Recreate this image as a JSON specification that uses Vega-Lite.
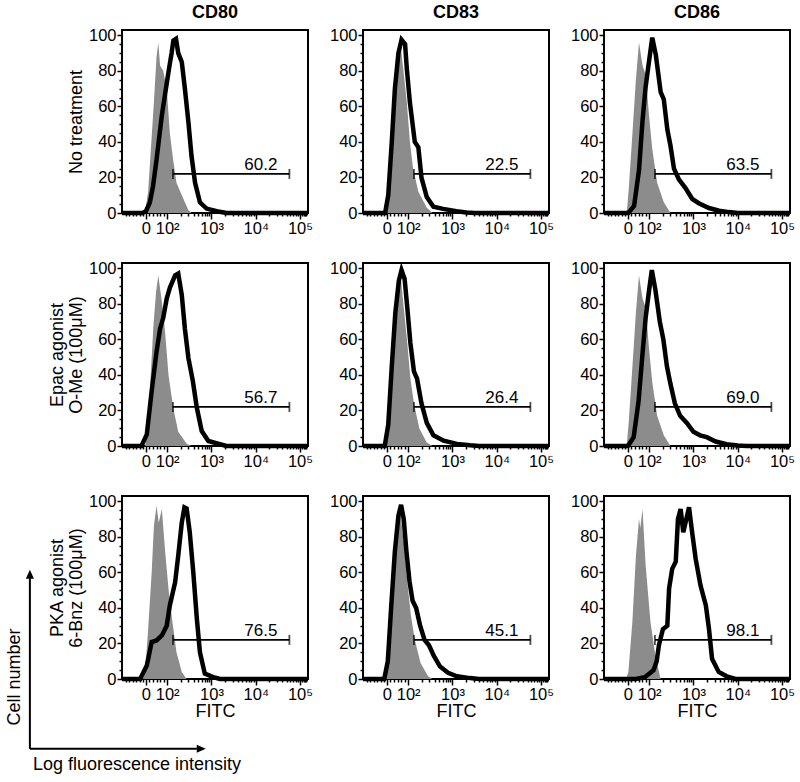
{
"$schema": "https://vega.github.io/schema/vega-lite/v6.json",
"background": "white",
"padding": {"left": 4, "top": 3, "right": 5, "bottom": 5},
"columns": 3,
"bounds": "flush",
"spacing": {"row": 50, "column": 55},
"datasets": {
"h": [
{"p":1,"s":"i","u":1.45,"y":0},{"p":1,"s":"i","u":1.50,"y":0.5},{"p":1,"s":"i","u":1.57,"y":12},{"p":1,"s":"i","u":1.63,"y":35},{"p":1,"s":"i","u":1.70,"y":62},{"p":1,"s":"i","u":1.76,"y":88},{"p":1,"s":"i","u":1.80,"y":96},{"p":1,"s":"i","u":1.84,"y":83},{"p":1,"s":"i","u":1.91,"y":80},{"p":1,"s":"i","u":1.99,"y":70},{"p":1,"s":"i","u":2.06,"y":45},{"p":1,"s":"i","u":2.14,"y":29},{"p":1,"s":"i","u":2.21,"y":17},{"p":1,"s":"i","u":2.33,"y":10},{"p":1,"s":"i","u":2.48,"y":1.5},{"p":1,"s":"i","u":2.55,"y":0},
{"p":1,"s":"b","u":0.98,"y":0},{"p":1,"s":"b","u":1.44,"y":0},{"p":1,"s":"b","u":1.52,"y":1},{"p":1,"s":"b","u":1.61,"y":6},{"p":1,"s":"b","u":1.68,"y":15},{"p":1,"s":"b","u":1.76,"y":30},{"p":1,"s":"b","u":1.88,"y":55},{"p":1,"s":"b","u":1.99,"y":73},{"p":1,"s":"b","u":2.06,"y":84},{"p":1,"s":"b","u":2.10,"y":90},{"p":1,"s":"b","u":2.14,"y":97},{"p":1,"s":"b","u":2.20,"y":98},{"p":1,"s":"b","u":2.25,"y":90},{"p":1,"s":"b","u":2.33,"y":85},{"p":1,"s":"b","u":2.40,"y":70},{"p":1,"s":"b","u":2.48,"y":51},{"p":1,"s":"b","u":2.55,"y":32},{"p":1,"s":"b","u":2.63,"y":17},{"p":1,"s":"b","u":2.74,"y":6},{"p":1,"s":"b","u":2.89,"y":2.5},{"p":1,"s":"b","u":3.12,"y":1},{"p":1,"s":"b","u":3.34,"y":0},{"p":1,"s":"b","u":5.18,"y":0},
{"p":2,"s":"i","u":1.48,"y":0},{"p":2,"s":"i","u":1.53,"y":3},{"p":2,"s":"i","u":1.59,"y":21},{"p":2,"s":"i","u":1.67,"y":53},{"p":2,"s":"i","u":1.74,"y":85},{"p":2,"s":"i","u":1.78,"y":95},{"p":2,"s":"i","u":1.82,"y":96},{"p":2,"s":"i","u":1.89,"y":81},{"p":2,"s":"i","u":1.97,"y":62},{"p":2,"s":"i","u":2.04,"y":40},{"p":2,"s":"i","u":2.11,"y":25},{"p":2,"s":"i","u":2.23,"y":12},{"p":2,"s":"i","u":2.42,"y":3},{"p":2,"s":"i","u":2.55,"y":0},
{"p":2,"s":"b","u":0.98,"y":0},{"p":2,"s":"b","u":1.48,"y":0},{"p":2,"s":"b","u":1.55,"y":10},{"p":2,"s":"b","u":1.63,"y":40},{"p":2,"s":"b","u":1.70,"y":70},{"p":2,"s":"b","u":1.78,"y":90},{"p":2,"s":"b","u":1.85,"y":97.5},{"p":2,"s":"b","u":1.93,"y":95},{"p":2,"s":"b","u":1.97,"y":81},{"p":2,"s":"b","u":2.04,"y":62},{"p":2,"s":"b","u":2.15,"y":40},{"p":2,"s":"b","u":2.23,"y":37},{"p":2,"s":"b","u":2.30,"y":20},{"p":2,"s":"b","u":2.42,"y":9},{"p":2,"s":"b","u":2.57,"y":3.5},{"p":2,"s":"b","u":2.79,"y":2.3},{"p":2,"s":"b","u":3.09,"y":1},{"p":2,"s":"b","u":3.32,"y":0.3},{"p":2,"s":"b","u":3.5,"y":0},{"p":2,"s":"b","u":5.18,"y":0},
{"p":3,"s":"i","u":1.46,"y":0},{"p":3,"s":"i","u":1.50,"y":2},{"p":3,"s":"i","u":1.54,"y":14},{"p":3,"s":"i","u":1.62,"y":44},{"p":3,"s":"i","u":1.70,"y":75},{"p":3,"s":"i","u":1.77,"y":96},{"p":3,"s":"i","u":1.85,"y":83},{"p":3,"s":"i","u":1.92,"y":78},{"p":3,"s":"i","u":2.0,"y":54},{"p":3,"s":"i","u":2.07,"y":36},{"p":3,"s":"i","u":2.18,"y":17},{"p":3,"s":"i","u":2.33,"y":6},{"p":3,"s":"i","u":2.48,"y":0},
{"p":3,"s":"b","u":0.98,"y":0},{"p":3,"s":"b","u":1.53,"y":0},{"p":3,"s":"b","u":1.66,"y":4},{"p":3,"s":"b","u":1.77,"y":24},{"p":3,"s":"b","u":1.85,"y":52},{"p":3,"s":"b","u":1.92,"y":71},{"p":3,"s":"b","u":2.0,"y":86},{"p":3,"s":"b","u":2.07,"y":98.7},{"p":3,"s":"b","u":2.15,"y":89},{"p":3,"s":"b","u":2.26,"y":68},{"p":3,"s":"b","u":2.33,"y":64},{"p":3,"s":"b","u":2.41,"y":47},{"p":3,"s":"b","u":2.48,"y":38},{"p":3,"s":"b","u":2.56,"y":25},{"p":3,"s":"b","u":2.67,"y":19},{"p":3,"s":"b","u":2.82,"y":14},{"p":3,"s":"b","u":2.97,"y":8},{"p":3,"s":"b","u":3.12,"y":5.5},{"p":3,"s":"b","u":3.35,"y":2.8},{"p":3,"s":"b","u":3.58,"y":1.3},{"p":3,"s":"b","u":3.80,"y":0.5},{"p":3,"s":"b","u":4.0,"y":0},{"p":3,"s":"b","u":5.18,"y":0},
{"p":4,"s":"i","u":1.50,"y":0},{"p":4,"s":"i","u":1.54,"y":5},{"p":4,"s":"i","u":1.61,"y":31},{"p":4,"s":"i","u":1.69,"y":68},{"p":4,"s":"i","u":1.75,"y":87},{"p":4,"s":"i","u":1.80,"y":96},{"p":4,"s":"i","u":1.88,"y":81},{"p":4,"s":"i","u":1.95,"y":65},{"p":4,"s":"i","u":2.03,"y":40},{"p":4,"s":"i","u":2.14,"y":21},{"p":4,"s":"i","u":2.25,"y":8},{"p":4,"s":"i","u":2.44,"y":1.3},{"p":4,"s":"i","u":2.55,"y":0},
{"p":4,"s":"b","u":0.98,"y":0},{"p":4,"s":"b","u":1.42,"y":0},{"p":4,"s":"b","u":1.54,"y":6.5},{"p":4,"s":"b","u":1.65,"y":31},{"p":4,"s":"b","u":1.76,"y":53},{"p":4,"s":"b","u":1.84,"y":66},{"p":4,"s":"b","u":1.91,"y":72},{"p":4,"s":"b","u":1.99,"y":83},{"p":4,"s":"b","u":2.06,"y":89},{"p":4,"s":"b","u":2.18,"y":96},{"p":4,"s":"b","u":2.25,"y":97},{"p":4,"s":"b","u":2.33,"y":85},{"p":4,"s":"b","u":2.40,"y":66},{"p":4,"s":"b","u":2.48,"y":49.5},{"p":4,"s":"b","u":2.58,"y":36.5},{"p":4,"s":"b","u":2.67,"y":21.5},{"p":4,"s":"b","u":2.78,"y":8.4},{"p":4,"s":"b","u":2.93,"y":2.8},{"p":4,"s":"b","u":3.19,"y":1},{"p":4,"s":"b","u":3.34,"y":0},{"p":4,"s":"b","u":5.18,"y":0},
{"p":5,"s":"i","u":1.48,"y":0},{"p":5,"s":"i","u":1.53,"y":3},{"p":5,"s":"i","u":1.60,"y":25},{"p":5,"s":"i","u":1.68,"y":58},{"p":5,"s":"i","u":1.75,"y":88},{"p":5,"s":"i","u":1.80,"y":97},{"p":5,"s":"i","u":1.84,"y":93},{"p":5,"s":"i","u":1.90,"y":78},{"p":5,"s":"i","u":1.98,"y":58},{"p":5,"s":"i","u":2.05,"y":38},{"p":5,"s":"i","u":2.13,"y":24},{"p":5,"s":"i","u":2.25,"y":10},{"p":5,"s":"i","u":2.42,"y":2},{"p":5,"s":"i","u":2.55,"y":0},
{"p":5,"s":"b","u":0.98,"y":0},{"p":5,"s":"b","u":1.47,"y":0},{"p":5,"s":"b","u":1.55,"y":12},{"p":5,"s":"b","u":1.63,"y":45},{"p":5,"s":"b","u":1.71,"y":75},{"p":5,"s":"b","u":1.79,"y":93},{"p":5,"s":"b","u":1.85,"y":99},{"p":5,"s":"b","u":1.92,"y":94},{"p":5,"s":"b","u":1.98,"y":78},{"p":5,"s":"b","u":2.05,"y":58},{"p":5,"s":"b","u":2.13,"y":42},{"p":5,"s":"b","u":2.20,"y":38},{"p":5,"s":"b","u":2.30,"y":24},{"p":5,"s":"b","u":2.42,"y":13},{"p":5,"s":"b","u":2.57,"y":6},{"p":5,"s":"b","u":2.80,"y":3},{"p":5,"s":"b","u":3.10,"y":1.2},{"p":5,"s":"b","u":3.40,"y":0.4},{"p":5,"s":"b","u":3.60,"y":0},{"p":5,"s":"b","u":5.18,"y":0},
{"p":6,"s":"i","u":1.46,"y":0},{"p":6,"s":"i","u":1.50,"y":2},{"p":6,"s":"i","u":1.54,"y":14},{"p":6,"s":"i","u":1.62,"y":44},{"p":6,"s":"i","u":1.70,"y":75},{"p":6,"s":"i","u":1.77,"y":96},{"p":6,"s":"i","u":1.85,"y":83},{"p":6,"s":"i","u":1.92,"y":78},{"p":6,"s":"i","u":2.0,"y":54},{"p":6,"s":"i","u":2.07,"y":36},{"p":6,"s":"i","u":2.18,"y":17},{"p":6,"s":"i","u":2.33,"y":6},{"p":6,"s":"i","u":2.48,"y":0},
{"p":6,"s":"b","u":0.98,"y":0},{"p":6,"s":"b","u":1.52,"y":0},{"p":6,"s":"b","u":1.65,"y":5},{"p":6,"s":"b","u":1.76,"y":25},{"p":6,"s":"b","u":1.85,"y":52},{"p":6,"s":"b","u":1.92,"y":72},{"p":6,"s":"b","u":2.0,"y":88},{"p":6,"s":"b","u":2.06,"y":99},{"p":6,"s":"b","u":2.14,"y":88},{"p":6,"s":"b","u":2.24,"y":70},{"p":6,"s":"b","u":2.32,"y":60},{"p":6,"s":"b","u":2.40,"y":45},{"p":6,"s":"b","u":2.48,"y":35},{"p":6,"s":"b","u":2.58,"y":24},{"p":6,"s":"b","u":2.70,"y":17},{"p":6,"s":"b","u":2.85,"y":13},{"p":6,"s":"b","u":3.0,"y":8},{"p":6,"s":"b","u":3.15,"y":6},{"p":6,"s":"b","u":3.3,"y":5},{"p":6,"s":"b","u":3.5,"y":2.5},{"p":6,"s":"b","u":3.75,"y":1},{"p":6,"s":"b","u":4.0,"y":0.3},{"p":6,"s":"b","u":4.2,"y":0},{"p":6,"s":"b","u":5.18,"y":0},
{"p":7,"s":"i","u":1.45,"y":0},{"p":7,"s":"i","u":1.50,"y":3},{"p":7,"s":"i","u":1.57,"y":28},{"p":7,"s":"i","u":1.65,"y":60},{"p":7,"s":"i","u":1.70,"y":86},{"p":7,"s":"i","u":1.76,"y":97.6},{"p":7,"s":"i","u":1.81,"y":88},{"p":7,"s":"i","u":1.88,"y":95.7},{"p":7,"s":"i","u":1.95,"y":73},{"p":7,"s":"i","u":2.03,"y":50.7},{"p":7,"s":"i","u":2.10,"y":35.7},{"p":7,"s":"i","u":2.21,"y":15},{"p":7,"s":"i","u":2.33,"y":3.9},{"p":7,"s":"i","u":2.44,"y":0},
{"p":7,"s":"b","u":0.98,"y":0},{"p":7,"s":"b","u":1.39,"y":0},{"p":7,"s":"b","u":1.54,"y":7.6},{"p":7,"s":"b","u":1.65,"y":20.8},{"p":7,"s":"b","u":1.76,"y":21.7},{"p":7,"s":"b","u":1.88,"y":24.5},{"p":7,"s":"b","u":1.99,"y":30},{"p":7,"s":"b","u":2.06,"y":41.4},{"p":7,"s":"b","u":2.18,"y":54.5},{"p":7,"s":"b","u":2.25,"y":69.5},{"p":7,"s":"b","u":2.33,"y":88},{"p":7,"s":"b","u":2.39,"y":96.6},{"p":7,"s":"b","u":2.44,"y":96},{"p":7,"s":"b","u":2.51,"y":82.6},{"p":7,"s":"b","u":2.59,"y":60},{"p":7,"s":"b","u":2.67,"y":33.9},{"p":7,"s":"b","u":2.74,"y":15},{"p":7,"s":"b","u":2.85,"y":3},{"p":7,"s":"b","u":3.04,"y":1.1},{"p":7,"s":"b","u":3.19,"y":0},{"p":7,"s":"b","u":5.18,"y":0},
{"p":8,"s":"i","u":1.47,"y":0},{"p":8,"s":"i","u":1.52,"y":3},{"p":8,"s":"i","u":1.59,"y":25},{"p":8,"s":"i","u":1.67,"y":58},{"p":8,"s":"i","u":1.74,"y":88},{"p":8,"s":"i","u":1.79,"y":97},{"p":8,"s":"i","u":1.84,"y":90},{"p":8,"s":"i","u":1.91,"y":75},{"p":8,"s":"i","u":1.98,"y":55},{"p":8,"s":"i","u":2.06,"y":36},{"p":8,"s":"i","u":2.15,"y":22},{"p":8,"s":"i","u":2.28,"y":9},{"p":8,"s":"i","u":2.45,"y":1.5},{"p":8,"s":"i","u":2.55,"y":0},
{"p":8,"s":"b","u":0.98,"y":0},{"p":8,"s":"b","u":1.46,"y":0},{"p":8,"s":"b","u":1.54,"y":10},{"p":8,"s":"b","u":1.62,"y":42},{"p":8,"s":"b","u":1.70,"y":72},{"p":8,"s":"b","u":1.78,"y":92},{"p":8,"s":"b","u":1.84,"y":98},{"p":8,"s":"b","u":1.90,"y":90},{"p":8,"s":"b","u":1.96,"y":72},{"p":8,"s":"b","u":2.03,"y":55},{"p":8,"s":"b","u":2.10,"y":44},{"p":8,"s":"b","u":2.18,"y":40},{"p":8,"s":"b","u":2.27,"y":30},{"p":8,"s":"b","u":2.37,"y":22},{"p":8,"s":"b","u":2.47,"y":19},{"p":8,"s":"b","u":2.58,"y":13},{"p":8,"s":"b","u":2.72,"y":7},{"p":8,"s":"b","u":2.90,"y":3.5},{"p":8,"s":"b","u":3.10,"y":1.5},{"p":8,"s":"b","u":3.40,"y":0.5},{"p":8,"s":"b","u":3.60,"y":0},{"p":8,"s":"b","u":5.18,"y":0},
{"p":9,"s":"i","u":1.48,"y":0},{"p":9,"s":"i","u":1.53,"y":4},{"p":9,"s":"i","u":1.62,"y":32},{"p":9,"s":"i","u":1.70,"y":69},{"p":9,"s":"i","u":1.77,"y":90},{"p":9,"s":"i","u":1.80,"y":85},{"p":9,"s":"i","u":1.85,"y":95.7},{"p":9,"s":"i","u":1.92,"y":64},{"p":9,"s":"i","u":2.03,"y":32},{"p":9,"s":"i","u":2.15,"y":11.4},{"p":9,"s":"i","u":2.26,"y":0},
{"p":9,"s":"b","u":0.98,"y":0},{"p":9,"s":"b","u":1.70,"y":0},{"p":9,"s":"b","u":1.90,"y":1},{"p":9,"s":"b","u":2.0,"y":3},{"p":9,"s":"b","u":2.1,"y":5},{"p":9,"s":"b","u":2.17,"y":10},{"p":9,"s":"b","u":2.22,"y":19},{"p":9,"s":"b","u":2.31,"y":28},{"p":9,"s":"b","u":2.41,"y":30},{"p":9,"s":"b","u":2.45,"y":51},{"p":9,"s":"b","u":2.52,"y":62},{"p":9,"s":"b","u":2.60,"y":66},{"p":9,"s":"b","u":2.65,"y":90},{"p":9,"s":"b","u":2.71,"y":95.7},{"p":9,"s":"b","u":2.77,"y":82.6},{"p":9,"s":"b","u":2.82,"y":88},{"p":9,"s":"b","u":2.90,"y":96.6},{"p":9,"s":"b","u":2.97,"y":82.6},{"p":9,"s":"b","u":3.05,"y":67.6},{"p":9,"s":"b","u":3.16,"y":52.6},{"p":9,"s":"b","u":3.28,"y":41.4},{"p":9,"s":"b","u":3.35,"y":28.3},{"p":9,"s":"b","u":3.42,"y":11.4},{"p":9,"s":"b","u":3.57,"y":4},{"p":9,"s":"b","u":3.75,"y":1.5},{"p":9,"s":"b","u":3.95,"y":0},{"p":9,"s":"b","u":5.18,"y":0}
],
"g": [
{"p":1,"u":2.13,"u2":4.76,"y":22,"lab":"60.2"},{"p":2,"u":2.13,"u2":4.76,"y":22,"lab":"22.5"},{"p":3,"u":2.13,"u2":4.76,"y":22,"lab":"63.5"},
{"p":4,"u":2.13,"u2":4.76,"y":22,"lab":"56.7"},{"p":5,"u":2.13,"u2":4.76,"y":22,"lab":"26.4"},{"p":6,"u":2.13,"u2":4.76,"y":22,"lab":"69.0"},
{"p":7,"u":2.13,"u2":4.76,"y":22,"lab":"76.5"},{"p":8,"u":2.13,"u2":4.76,"y":22,"lab":"45.1"},{"p":9,"u":2.13,"u2":4.76,"y":22,"lab":"98.1"}
],
"st": [
{"p":1,"n":"86","m":"207"},{"p":2,"n":"86","m":"120"},{"p":3,"n":"86","m":"214"},
{"p":4,"n":"92","m":"201"},{"p":5,"n":"92","m":"125"},{"p":6,"n":"92","m":"232"},
{"p":7,"n":"91","m":"293"},{"p":8,"n":"91","m":"167"},{"p":9,"n":"91","m":"972"}
]
},
"concat": [
{"width":186,"height":183,"title":"CD80",
 "encoding":{"x":{"field":"u","type":"quantitative","scale":{"domain":[0.98,5.18],"nice":false,"zero":false},"axis":{"title":null,"values":[1.06,1.14,1.22,1.30,1.38,1.45,1.52,1.60,1.68,1.76,1.84,1.92,2,2.301,2.477,2.602,2.699,2.778,2.845,2.903,2.954,3,3.301,3.477,3.602,3.699,3.778,3.845,3.903,3.954,4,4.301,4.477,4.602,4.699,4.778,4.845,4.903,4.954,5,5.041,5.079,5.114,5.146],"labelExpr":"datum.value==1.52?'0':datum.value==2?'10²':datum.value==3?'10³':datum.value==4?'10⁴':datum.value==5?'10⁵':''","tickSize":{"condition":{"test":"indexof([1.52,2,3,4,5],datum.value)>=0","value":6},"value":3},"labelOverlap":false,"labelFlush":false,"labelPadding":1}},
  "y":{"field":"y","type":"quantitative","stack":null,"scale":{"domain":[0,103],"nice":false},"axis":{"title":"No treatment","values":[0,5,10,15,20,25,30,35,40,45,50,55,60,65,70,75,80,85,90,95,100],"labelExpr":"datum.value%20==0?datum.label:''","tickSize":{"condition":{"test":"datum.value%20==0","value":5},"value":3},"labelPadding":1,"titlePadding":3,"titleLineHeight":19}}},
 "layer":[
  {"data":{"name":"h"},"transform":[{"filter":"datum.p==1&&datum.s=='i'"}],"mark":{"type":"area","color":"#8c8c8c"}},
  {"data":{"name":"h"},"transform":[{"filter":"datum.p==1&&datum.s=='b'"}],"mark":{"type":"line","color":"black","strokeWidth":4.5}},
  {"data":{"name":"g"},"transform":[{"filter":"datum.p==1"}],"mark":{"type":"rule","color":"black","strokeWidth":1.8},"encoding":{"x2":{"field":"u2"}}},
  {"data":{"name":"g"},"transform":[{"filter":"datum.p==1"},{"fold":["u","u2"],"as":["end","u"]}],"mark":{"type":"tick","orient":"vertical","color":"black","size":10,"thickness":1.8}},
  {"data":{"name":"g"},"transform":[{"filter":"datum.p==1"}],"mark":{"type":"text","align":"right","baseline":"alphabetic","dx":-12,"dy":-4,"fontSize":17,"color":"black"},"encoding":{"x":{"field":"u2","type":"quantitative"},"text":{"field":"lab","type":"nominal"}}},
  {"data":{"name":"st"},"transform":[{"filter":"datum.p==1"}],"mark":{"type":"text","align":"right","baseline":"middle","fontSize":17,"color":"black"},"encoding":{"x":{"datum":5.09},"y":{"datum":94.5},"text":{"field":"n","type":"nominal"}}},
  {"data":{"name":"st"},"transform":[{"filter":"datum.p==1"}],"mark":{"type":"text","align":"right","baseline":"middle","fontSize":17,"fontWeight":"bold","color":"black"},"encoding":{"x":{"datum":5.09},"y":{"datum":82.5},"text":{"field":"m","type":"nominal"}}}
 ]},
{"width":186,"height":183,"title":"CD83",
 "encoding":{"x":{"field":"u","type":"quantitative","scale":{"domain":[0.98,5.18],"nice":false,"zero":false},"axis":{"title":null,"values":[1.06,1.14,1.22,1.30,1.38,1.45,1.52,1.60,1.68,1.76,1.84,1.92,2,2.301,2.477,2.602,2.699,2.778,2.845,2.903,2.954,3,3.301,3.477,3.602,3.699,3.778,3.845,3.903,3.954,4,4.301,4.477,4.602,4.699,4.778,4.845,4.903,4.954,5,5.041,5.079,5.114,5.146],"labelExpr":"datum.value==1.52?'0':datum.value==2?'10²':datum.value==3?'10³':datum.value==4?'10⁴':datum.value==5?'10⁵':''","tickSize":{"condition":{"test":"indexof([1.52,2,3,4,5],datum.value)>=0","value":6},"value":3},"labelOverlap":false,"labelFlush":false,"labelPadding":1}},
  "y":{"field":"y","type":"quantitative","stack":null,"scale":{"domain":[0,103],"nice":false},"axis":{"title":null,"values":[0,5,10,15,20,25,30,35,40,45,50,55,60,65,70,75,80,85,90,95,100],"labelExpr":"datum.value%20==0?datum.label:''","tickSize":{"condition":{"test":"datum.value%20==0","value":5},"value":3},"labelPadding":1}}},
 "layer":[
  {"data":{"name":"h"},"transform":[{"filter":"datum.p==2&&datum.s=='i'"}],"mark":{"type":"area","color":"#8c8c8c"}},
  {"data":{"name":"h"},"transform":[{"filter":"datum.p==2&&datum.s=='b'"}],"mark":{"type":"line","color":"black","strokeWidth":4.5}},
  {"data":{"name":"g"},"transform":[{"filter":"datum.p==2"}],"mark":{"type":"rule","color":"black","strokeWidth":1.8},"encoding":{"x2":{"field":"u2"}}},
  {"data":{"name":"g"},"transform":[{"filter":"datum.p==2"},{"fold":["u","u2"],"as":["end","u"]}],"mark":{"type":"tick","orient":"vertical","color":"black","size":10,"thickness":1.8}},
  {"data":{"name":"g"},"transform":[{"filter":"datum.p==2"}],"mark":{"type":"text","align":"right","baseline":"alphabetic","dx":-12,"dy":-4,"fontSize":17,"color":"black"},"encoding":{"x":{"field":"u2","type":"quantitative"},"text":{"field":"lab","type":"nominal"}}},
  {"data":{"name":"st"},"transform":[{"filter":"datum.p==2"}],"mark":{"type":"text","align":"right","baseline":"middle","fontSize":17,"color":"black"},"encoding":{"x":{"datum":5.09},"y":{"datum":94.5},"text":{"field":"n","type":"nominal"}}},
  {"data":{"name":"st"},"transform":[{"filter":"datum.p==2"}],"mark":{"type":"text","align":"right","baseline":"middle","fontSize":17,"fontWeight":"bold","color":"black"},"encoding":{"x":{"datum":5.09},"y":{"datum":82.5},"text":{"field":"m","type":"nominal"}}}
 ]},
{"width":186,"height":183,"title":"CD86",
 "encoding":{"x":{"field":"u","type":"quantitative","scale":{"domain":[0.98,5.18],"nice":false,"zero":false},"axis":{"title":null,"values":[1.06,1.14,1.22,1.30,1.38,1.45,1.52,1.60,1.68,1.76,1.84,1.92,2,2.301,2.477,2.602,2.699,2.778,2.845,2.903,2.954,3,3.301,3.477,3.602,3.699,3.778,3.845,3.903,3.954,4,4.301,4.477,4.602,4.699,4.778,4.845,4.903,4.954,5,5.041,5.079,5.114,5.146],"labelExpr":"datum.value==1.52?'0':datum.value==2?'10²':datum.value==3?'10³':datum.value==4?'10⁴':datum.value==5?'10⁵':''","tickSize":{"condition":{"test":"indexof([1.52,2,3,4,5],datum.value)>=0","value":6},"value":3},"labelOverlap":false,"labelFlush":false,"labelPadding":1}},
  "y":{"field":"y","type":"quantitative","stack":null,"scale":{"domain":[0,103],"nice":false},"axis":{"title":null,"values":[0,5,10,15,20,25,30,35,40,45,50,55,60,65,70,75,80,85,90,95,100],"labelExpr":"datum.value%20==0?datum.label:''","tickSize":{"condition":{"test":"datum.value%20==0","value":5},"value":3},"labelPadding":1}}},
 "layer":[
  {"data":{"name":"h"},"transform":[{"filter":"datum.p==3&&datum.s=='i'"}],"mark":{"type":"area","color":"#8c8c8c"}},
  {"data":{"name":"h"},"transform":[{"filter":"datum.p==3&&datum.s=='b'"}],"mark":{"type":"line","color":"black","strokeWidth":4.5}},
  {"data":{"name":"g"},"transform":[{"filter":"datum.p==3"}],"mark":{"type":"rule","color":"black","strokeWidth":1.8},"encoding":{"x2":{"field":"u2"}}},
  {"data":{"name":"g"},"transform":[{"filter":"datum.p==3"},{"fold":["u","u2"],"as":["end","u"]}],"mark":{"type":"tick","orient":"vertical","color":"black","size":10,"thickness":1.8}},
  {"data":{"name":"g"},"transform":[{"filter":"datum.p==3"}],"mark":{"type":"text","align":"right","baseline":"alphabetic","dx":-12,"dy":-4,"fontSize":17,"color":"black"},"encoding":{"x":{"field":"u2","type":"quantitative"},"text":{"field":"lab","type":"nominal"}}},
  {"data":{"name":"st"},"transform":[{"filter":"datum.p==3"}],"mark":{"type":"text","align":"right","baseline":"middle","fontSize":17,"color":"black"},"encoding":{"x":{"datum":5.09},"y":{"datum":94.5},"text":{"field":"n","type":"nominal"}}},
  {"data":{"name":"st"},"transform":[{"filter":"datum.p==3"}],"mark":{"type":"text","align":"right","baseline":"middle","fontSize":17,"fontWeight":"bold","color":"black"},"encoding":{"x":{"datum":5.09},"y":{"datum":82.5},"text":{"field":"m","type":"nominal"}}}
 ]},
{"width":186,"height":183,
 "encoding":{"x":{"field":"u","type":"quantitative","scale":{"domain":[0.98,5.18],"nice":false,"zero":false},"axis":{"title":null,"values":[1.06,1.14,1.22,1.30,1.38,1.45,1.52,1.60,1.68,1.76,1.84,1.92,2,2.301,2.477,2.602,2.699,2.778,2.845,2.903,2.954,3,3.301,3.477,3.602,3.699,3.778,3.845,3.903,3.954,4,4.301,4.477,4.602,4.699,4.778,4.845,4.903,4.954,5,5.041,5.079,5.114,5.146],"labelExpr":"datum.value==1.52?'0':datum.value==2?'10²':datum.value==3?'10³':datum.value==4?'10⁴':datum.value==5?'10⁵':''","tickSize":{"condition":{"test":"indexof([1.52,2,3,4,5],datum.value)>=0","value":6},"value":3},"labelOverlap":false,"labelFlush":false,"labelPadding":1}},
  "y":{"field":"y","type":"quantitative","stack":null,"scale":{"domain":[0,103],"nice":false},"axis":{"title":["Epac agonist","O-Me (100μM)"],"values":[0,5,10,15,20,25,30,35,40,45,50,55,60,65,70,75,80,85,90,95,100],"labelExpr":"datum.value%20==0?datum.label:''","tickSize":{"condition":{"test":"datum.value%20==0","value":5},"value":3},"labelPadding":1,"titlePadding":3,"titleLineHeight":19}}},
 "layer":[
  {"data":{"name":"h"},"transform":[{"filter":"datum.p==4&&datum.s=='i'"}],"mark":{"type":"area","color":"#8c8c8c"}},
  {"data":{"name":"h"},"transform":[{"filter":"datum.p==4&&datum.s=='b'"}],"mark":{"type":"line","color":"black","strokeWidth":4.5}},
  {"data":{"name":"g"},"transform":[{"filter":"datum.p==4"}],"mark":{"type":"rule","color":"black","strokeWidth":1.8},"encoding":{"x2":{"field":"u2"}}},
  {"data":{"name":"g"},"transform":[{"filter":"datum.p==4"},{"fold":["u","u2"],"as":["end","u"]}],"mark":{"type":"tick","orient":"vertical","color":"black","size":10,"thickness":1.8}},
  {"data":{"name":"g"},"transform":[{"filter":"datum.p==4"}],"mark":{"type":"text","align":"right","baseline":"alphabetic","dx":-12,"dy":-4,"fontSize":17,"color":"black"},"encoding":{"x":{"field":"u2","type":"quantitative"},"text":{"field":"lab","type":"nominal"}}},
  {"data":{"name":"st"},"transform":[{"filter":"datum.p==4"}],"mark":{"type":"text","align":"right","baseline":"middle","fontSize":17,"color":"black"},"encoding":{"x":{"datum":5.09},"y":{"datum":94.5},"text":{"field":"n","type":"nominal"}}},
  {"data":{"name":"st"},"transform":[{"filter":"datum.p==4"}],"mark":{"type":"text","align":"right","baseline":"middle","fontSize":17,"fontWeight":"bold","color":"black"},"encoding":{"x":{"datum":5.09},"y":{"datum":82.5},"text":{"field":"m","type":"nominal"}}}
 ]},
{"width":186,"height":183,
 "encoding":{"x":{"field":"u","type":"quantitative","scale":{"domain":[0.98,5.18],"nice":false,"zero":false},"axis":{"title":null,"values":[1.06,1.14,1.22,1.30,1.38,1.45,1.52,1.60,1.68,1.76,1.84,1.92,2,2.301,2.477,2.602,2.699,2.778,2.845,2.903,2.954,3,3.301,3.477,3.602,3.699,3.778,3.845,3.903,3.954,4,4.301,4.477,4.602,4.699,4.778,4.845,4.903,4.954,5,5.041,5.079,5.114,5.146],"labelExpr":"datum.value==1.52?'0':datum.value==2?'10²':datum.value==3?'10³':datum.value==4?'10⁴':datum.value==5?'10⁵':''","tickSize":{"condition":{"test":"indexof([1.52,2,3,4,5],datum.value)>=0","value":6},"value":3},"labelOverlap":false,"labelFlush":false,"labelPadding":1}},
  "y":{"field":"y","type":"quantitative","stack":null,"scale":{"domain":[0,103],"nice":false},"axis":{"title":null,"values":[0,5,10,15,20,25,30,35,40,45,50,55,60,65,70,75,80,85,90,95,100],"labelExpr":"datum.value%20==0?datum.label:''","tickSize":{"condition":{"test":"datum.value%20==0","value":5},"value":3},"labelPadding":1}}},
 "layer":[
  {"data":{"name":"h"},"transform":[{"filter":"datum.p==5&&datum.s=='i'"}],"mark":{"type":"area","color":"#8c8c8c"}},
  {"data":{"name":"h"},"transform":[{"filter":"datum.p==5&&datum.s=='b'"}],"mark":{"type":"line","color":"black","strokeWidth":4.5}},
  {"data":{"name":"g"},"transform":[{"filter":"datum.p==5"}],"mark":{"type":"rule","color":"black","strokeWidth":1.8},"encoding":{"x2":{"field":"u2"}}},
  {"data":{"name":"g"},"transform":[{"filter":"datum.p==5"},{"fold":["u","u2"],"as":["end","u"]}],"mark":{"type":"tick","orient":"vertical","color":"black","size":10,"thickness":1.8}},
  {"data":{"name":"g"},"transform":[{"filter":"datum.p==5"}],"mark":{"type":"text","align":"right","baseline":"alphabetic","dx":-12,"dy":-4,"fontSize":17,"color":"black"},"encoding":{"x":{"field":"u2","type":"quantitative"},"text":{"field":"lab","type":"nominal"}}},
  {"data":{"name":"st"},"transform":[{"filter":"datum.p==5"}],"mark":{"type":"text","align":"right","baseline":"middle","fontSize":17,"color":"black"},"encoding":{"x":{"datum":5.09},"y":{"datum":94.5},"text":{"field":"n","type":"nominal"}}},
  {"data":{"name":"st"},"transform":[{"filter":"datum.p==5"}],"mark":{"type":"text","align":"right","baseline":"middle","fontSize":17,"fontWeight":"bold","color":"black"},"encoding":{"x":{"datum":5.09},"y":{"datum":82.5},"text":{"field":"m","type":"nominal"}}}
 ]},
{"width":186,"height":183,
 "encoding":{"x":{"field":"u","type":"quantitative","scale":{"domain":[0.98,5.18],"nice":false,"zero":false},"axis":{"title":null,"values":[1.06,1.14,1.22,1.30,1.38,1.45,1.52,1.60,1.68,1.76,1.84,1.92,2,2.301,2.477,2.602,2.699,2.778,2.845,2.903,2.954,3,3.301,3.477,3.602,3.699,3.778,3.845,3.903,3.954,4,4.301,4.477,4.602,4.699,4.778,4.845,4.903,4.954,5,5.041,5.079,5.114,5.146],"labelExpr":"datum.value==1.52?'0':datum.value==2?'10²':datum.value==3?'10³':datum.value==4?'10⁴':datum.value==5?'10⁵':''","tickSize":{"condition":{"test":"indexof([1.52,2,3,4,5],datum.value)>=0","value":6},"value":3},"labelOverlap":false,"labelFlush":false,"labelPadding":1}},
  "y":{"field":"y","type":"quantitative","stack":null,"scale":{"domain":[0,103],"nice":false},"axis":{"title":null,"values":[0,5,10,15,20,25,30,35,40,45,50,55,60,65,70,75,80,85,90,95,100],"labelExpr":"datum.value%20==0?datum.label:''","tickSize":{"condition":{"test":"datum.value%20==0","value":5},"value":3},"labelPadding":1}}},
 "layer":[
  {"data":{"name":"h"},"transform":[{"filter":"datum.p==6&&datum.s=='i'"}],"mark":{"type":"area","color":"#8c8c8c"}},
  {"data":{"name":"h"},"transform":[{"filter":"datum.p==6&&datum.s=='b'"}],"mark":{"type":"line","color":"black","strokeWidth":4.5}},
  {"data":{"name":"g"},"transform":[{"filter":"datum.p==6"}],"mark":{"type":"rule","color":"black","strokeWidth":1.8},"encoding":{"x2":{"field":"u2"}}},
  {"data":{"name":"g"},"transform":[{"filter":"datum.p==6"},{"fold":["u","u2"],"as":["end","u"]}],"mark":{"type":"tick","orient":"vertical","color":"black","size":10,"thickness":1.8}},
  {"data":{"name":"g"},"transform":[{"filter":"datum.p==6"}],"mark":{"type":"text","align":"right","baseline":"alphabetic","dx":-12,"dy":-4,"fontSize":17,"color":"black"},"encoding":{"x":{"field":"u2","type":"quantitative"},"text":{"field":"lab","type":"nominal"}}},
  {"data":{"name":"st"},"transform":[{"filter":"datum.p==6"}],"mark":{"type":"text","align":"right","baseline":"middle","fontSize":17,"color":"black"},"encoding":{"x":{"datum":5.09},"y":{"datum":94.5},"text":{"field":"n","type":"nominal"}}},
  {"data":{"name":"st"},"transform":[{"filter":"datum.p==6"}],"mark":{"type":"text","align":"right","baseline":"middle","fontSize":17,"fontWeight":"bold","color":"black"},"encoding":{"x":{"datum":5.09},"y":{"datum":82.5},"text":{"field":"m","type":"nominal"}}}
 ]},
{"width":186,"height":183,
 "resolve":{"axis":{"x":"independent","y":"independent"}},
 "layer":[
  {"encoding":{"x":{"field":"u","type":"quantitative","scale":{"domain":[0.98,5.18],"nice":false,"zero":false},"axis":{"title":"FITC","titlePadding":0,"values":[1.06,1.14,1.22,1.30,1.38,1.45,1.52,1.60,1.68,1.76,1.84,1.92,2,2.301,2.477,2.602,2.699,2.778,2.845,2.903,2.954,3,3.301,3.477,3.602,3.699,3.778,3.845,3.903,3.954,4,4.301,4.477,4.602,4.699,4.778,4.845,4.903,4.954,5,5.041,5.079,5.114,5.146],"labelExpr":"datum.value==1.52?'0':datum.value==2?'10²':datum.value==3?'10³':datum.value==4?'10⁴':datum.value==5?'10⁵':''","tickSize":{"condition":{"test":"indexof([1.52,2,3,4,5],datum.value)>=0","value":6},"value":3},"labelOverlap":false,"labelFlush":false,"labelPadding":1}},
   "y":{"field":"y","type":"quantitative","stack":null,"scale":{"domain":[0,103],"nice":false},"axis":{"title":["PKA agonist","6-Bnz (100μM)"],"values":[0,5,10,15,20,25,30,35,40,45,50,55,60,65,70,75,80,85,90,95,100],"labelExpr":"datum.value%20==0?datum.label:''","tickSize":{"condition":{"test":"datum.value%20==0","value":5},"value":3},"labelPadding":1,"titlePadding":3,"titleLineHeight":19}}},
   "layer":[
    {"data":{"name":"h"},"transform":[{"filter":"datum.p==7&&datum.s=='i'"}],"mark":{"type":"area","color":"#8c8c8c"}},
    {"data":{"name":"h"},"transform":[{"filter":"datum.p==7&&datum.s=='b'"}],"mark":{"type":"line","color":"black","strokeWidth":4.5}},
    {"data":{"name":"g"},"transform":[{"filter":"datum.p==7"}],"mark":{"type":"rule","color":"black","strokeWidth":1.8},"encoding":{"x2":{"field":"u2"}}},
    {"data":{"name":"g"},"transform":[{"filter":"datum.p==7"},{"fold":["u","u2"],"as":["end","u"]}],"mark":{"type":"tick","orient":"vertical","color":"black","size":10,"thickness":1.8}},
    {"data":{"name":"g"},"transform":[{"filter":"datum.p==7"}],"mark":{"type":"text","align":"right","baseline":"alphabetic","dx":-12,"dy":-4,"fontSize":17,"color":"black"},"encoding":{"x":{"field":"u2","type":"quantitative"},"text":{"field":"lab","type":"nominal"}}},
    {"data":{"name":"st"},"transform":[{"filter":"datum.p==7"}],"mark":{"type":"text","align":"right","baseline":"middle","fontSize":17,"color":"black"},"encoding":{"x":{"datum":5.09},"y":{"datum":94.5},"text":{"field":"n","type":"nominal"}}},
    {"data":{"name":"st"},"transform":[{"filter":"datum.p==7"}],"mark":{"type":"text","align":"right","baseline":"middle","fontSize":17,"fontWeight":"bold","color":"black"},"encoding":{"x":{"datum":5.09},"y":{"datum":82.5},"text":{"field":"m","type":"nominal"}}}
   ]},
  {"data":{"values":[{"k":1}]},"mark":{"type":"rule","color":"black","strokeWidth":2,"clip":false},"encoding":{"x":{"datum":-1.10,"axis":null},"y":{"datum":-39.3,"axis":null},"y2":{"datum":59}}},
  {"data":{"values":[{"k":1}]},"mark":{"type":"rule","color":"black","strokeWidth":2,"clip":false},"encoding":{"x":{"datum":-1.10,"axis":null},"x2":{"datum":2.67},"y":{"datum":-39.3,"axis":null}}},
  {"data":{"values":[{"k":1}]},"mark":{"type":"point","shape":"M-0.45,0.5L0,-0.5L0.45,0.5Z","filled":true,"color":"black","opacity":1,"size":324,"clip":false},"encoding":{"x":{"datum":-1.10,"axis":null},"y":{"datum":59,"axis":null}}},
  {"data":{"values":[{"k":1}]},"mark":{"type":"point","shape":"M-0.5,-0.45L0.5,0L-0.5,0.45Z","filled":true,"color":"black","opacity":1,"size":324,"clip":false},"encoding":{"x":{"datum":2.77,"axis":null},"y":{"datum":-39.3,"axis":null}}},
  {"data":{"values":[{"k":1}]},"mark":{"type":"text","align":"left","baseline":"middle","fontSize":18,"color":"black","clip":false},"encoding":{"x":{"datum":-1.03,"axis":null},"y":{"datum":-48.3,"axis":null},"text":{"value":"Log fluorescence intensity"}}},
  {"data":{"values":[{"k":1}]},"mark":{"type":"text","align":"center","baseline":"middle","angle":270,"fontSize":18,"color":"black","clip":false},"encoding":{"x":{"datum":-1.44,"axis":null},"y":{"datum":1.1,"axis":null},"text":{"value":"Cell number"}}}
 ]},
{"width":186,"height":183,
 "encoding":{"x":{"field":"u","type":"quantitative","scale":{"domain":[0.98,5.18],"nice":false,"zero":false},"axis":{"title":"FITC","titlePadding":0,"values":[1.06,1.14,1.22,1.30,1.38,1.45,1.52,1.60,1.68,1.76,1.84,1.92,2,2.301,2.477,2.602,2.699,2.778,2.845,2.903,2.954,3,3.301,3.477,3.602,3.699,3.778,3.845,3.903,3.954,4,4.301,4.477,4.602,4.699,4.778,4.845,4.903,4.954,5,5.041,5.079,5.114,5.146],"labelExpr":"datum.value==1.52?'0':datum.value==2?'10²':datum.value==3?'10³':datum.value==4?'10⁴':datum.value==5?'10⁵':''","tickSize":{"condition":{"test":"indexof([1.52,2,3,4,5],datum.value)>=0","value":6},"value":3},"labelOverlap":false,"labelFlush":false,"labelPadding":1}},
  "y":{"field":"y","type":"quantitative","stack":null,"scale":{"domain":[0,103],"nice":false},"axis":{"title":null,"values":[0,5,10,15,20,25,30,35,40,45,50,55,60,65,70,75,80,85,90,95,100],"labelExpr":"datum.value%20==0?datum.label:''","tickSize":{"condition":{"test":"datum.value%20==0","value":5},"value":3},"labelPadding":1}}},
 "layer":[
  {"data":{"name":"h"},"transform":[{"filter":"datum.p==8&&datum.s=='i'"}],"mark":{"type":"area","color":"#8c8c8c"}},
  {"data":{"name":"h"},"transform":[{"filter":"datum.p==8&&datum.s=='b'"}],"mark":{"type":"line","color":"black","strokeWidth":4.5}},
  {"data":{"name":"g"},"transform":[{"filter":"datum.p==8"}],"mark":{"type":"rule","color":"black","strokeWidth":1.8},"encoding":{"x2":{"field":"u2"}}},
  {"data":{"name":"g"},"transform":[{"filter":"datum.p==8"},{"fold":["u","u2"],"as":["end","u"]}],"mark":{"type":"tick","orient":"vertical","color":"black","size":10,"thickness":1.8}},
  {"data":{"name":"g"},"transform":[{"filter":"datum.p==8"}],"mark":{"type":"text","align":"right","baseline":"alphabetic","dx":-12,"dy":-4,"fontSize":17,"color":"black"},"encoding":{"x":{"field":"u2","type":"quantitative"},"text":{"field":"lab","type":"nominal"}}},
  {"data":{"name":"st"},"transform":[{"filter":"datum.p==8"}],"mark":{"type":"text","align":"right","baseline":"middle","fontSize":17,"color":"black"},"encoding":{"x":{"datum":5.09},"y":{"datum":94.5},"text":{"field":"n","type":"nominal"}}},
  {"data":{"name":"st"},"transform":[{"filter":"datum.p==8"}],"mark":{"type":"text","align":"right","baseline":"middle","fontSize":17,"fontWeight":"bold","color":"black"},"encoding":{"x":{"datum":5.09},"y":{"datum":82.5},"text":{"field":"m","type":"nominal"}}}
 ]},
{"width":186,"height":183,
 "encoding":{"x":{"field":"u","type":"quantitative","scale":{"domain":[0.98,5.18],"nice":false,"zero":false},"axis":{"title":"FITC","titlePadding":0,"values":[1.06,1.14,1.22,1.30,1.38,1.45,1.52,1.60,1.68,1.76,1.84,1.92,2,2.301,2.477,2.602,2.699,2.778,2.845,2.903,2.954,3,3.301,3.477,3.602,3.699,3.778,3.845,3.903,3.954,4,4.301,4.477,4.602,4.699,4.778,4.845,4.903,4.954,5,5.041,5.079,5.114,5.146],"labelExpr":"datum.value==1.52?'0':datum.value==2?'10²':datum.value==3?'10³':datum.value==4?'10⁴':datum.value==5?'10⁵':''","tickSize":{"condition":{"test":"indexof([1.52,2,3,4,5],datum.value)>=0","value":6},"value":3},"labelOverlap":false,"labelFlush":false,"labelPadding":1}},
  "y":{"field":"y","type":"quantitative","stack":null,"scale":{"domain":[0,103],"nice":false},"axis":{"title":null,"values":[0,5,10,15,20,25,30,35,40,45,50,55,60,65,70,75,80,85,90,95,100],"labelExpr":"datum.value%20==0?datum.label:''","tickSize":{"condition":{"test":"datum.value%20==0","value":5},"value":3},"labelPadding":1}}},
 "layer":[
  {"data":{"name":"h"},"transform":[{"filter":"datum.p==9&&datum.s=='i'"}],"mark":{"type":"area","color":"#8c8c8c"}},
  {"data":{"name":"h"},"transform":[{"filter":"datum.p==9&&datum.s=='b'"}],"mark":{"type":"line","color":"black","strokeWidth":4.5}},
  {"data":{"name":"g"},"transform":[{"filter":"datum.p==9"}],"mark":{"type":"rule","color":"black","strokeWidth":1.8},"encoding":{"x2":{"field":"u2"}}},
  {"data":{"name":"g"},"transform":[{"filter":"datum.p==9"},{"fold":["u","u2"],"as":["end","u"]}],"mark":{"type":"tick","orient":"vertical","color":"black","size":10,"thickness":1.8}},
  {"data":{"name":"g"},"transform":[{"filter":"datum.p==9"}],"mark":{"type":"text","align":"right","baseline":"alphabetic","dx":-12,"dy":-4,"fontSize":17,"color":"black"},"encoding":{"x":{"field":"u2","type":"quantitative"},"text":{"field":"lab","type":"nominal"}}},
  {"data":{"name":"st"},"transform":[{"filter":"datum.p==9"}],"mark":{"type":"text","align":"right","baseline":"middle","fontSize":17,"color":"black"},"encoding":{"x":{"datum":5.09},"y":{"datum":94.5},"text":{"field":"n","type":"nominal"}}},
  {"data":{"name":"st"},"transform":[{"filter":"datum.p==9"}],"mark":{"type":"text","align":"right","baseline":"middle","fontSize":17,"fontWeight":"bold","color":"black"},"encoding":{"x":{"datum":5.09},"y":{"datum":82.5},"text":{"field":"m","type":"nominal"}}}
 ]}
],
"config": {
 "font": "Liberation Sans",
 "view": {"stroke": "black", "strokeWidth": 2},
 "axis": {"domain": false, "grid": false, "tickColor": "black", "tickWidth": 1.5, "labelColor": "black", "labelFontSize": 16.5, "labelFont": "Liberation Sans", "titleFont": "Liberation Sans", "titleFontSize": 18, "titleFontWeight": "normal", "titleColor": "black"},
 "title": {"fontSize": 18, "fontWeight": "bold", "font": "Liberation Sans", "color": "black", "offset": 5}
}
}
